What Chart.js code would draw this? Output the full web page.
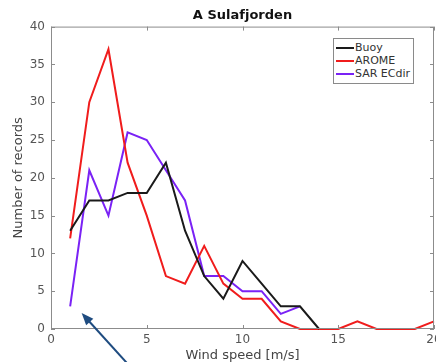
<!DOCTYPE html>
<html>
<head>
<meta charset="utf-8">
<script src="https://cdn.jsdelivr.net/npm/chart.js@4/dist/chart.umd.min.js"></script>
<style>
  html, body { margin: 0; padding: 0; background: #fff; }
  #wrap { position: relative; width: 436px; height: 362px; overflow: hidden; }
  #legend {
    position: absolute; left: 333px; top: 38px; width: 79px; height: 44px;
    border: 1px solid #8a8a8a; background: #fff;
    font: 11px "DejaVu Sans", sans-serif; color: #333;
  }
  .row { position: absolute; left: 2px; height: 13px; line-height: 13px; white-space: nowrap; }
  .row i { display: inline-block; width: 18px; height: 2px; vertical-align: middle; margin-right: 1px; }
</style>
</head>
<body>
<div id="wrap">
  <canvas id="c" width="436" height="362"></canvas>
  <div id="legend"></div>
</div>
<script>
// wind speed bins [m/s]
const speeds = [1, 2, 3, 4, 5, 6, 7, 8, 9, 10, 11, 12, 13, 14, 15, 16, 17, 18, 19, 20];

// number of records per bin
const buoy  = [13, 17, 17, 18, 18, 22, 13, 7, 4, 9, 6, 3, 3, 0];
const arome = [12, 30, 37, 22, 15, 7, 6, 11, 6, 4, 4, 1, 0, 0, 0, 1, 0, 0, 0, 1];
const sar   = [3, 21, 15, 26, 25, 21, 17, 7, 7, 5, 5, 2, 3];

const xTicks = [0, 5, 10, 15, 20];
const yTicks = [0, 5, 10, 15, 20, 25, 30, 35, 40];

// annotation arrow, in data units
const ARROW = { from: [4.0, -4.6], to: [1.6, 2.1] };

const SERIES = [
  { label: 'Buoy',      values: buoy,  color: '#1a1a1a' },
  { label: 'AROME',     values: arome, color: '#f01c1c' },
  { label: 'SAR ECdir', values: sar,   color: '#7a22f5' }
];

const tickFont = { family: 'DejaVu Sans', size: 12 };

// MATLAB style box with inward ticks on all four sides
const boxPlugin = {
  id: 'box',
  afterDraw(chart) {
    const { ctx, chartArea: a, scales: { x, y } } = chart;
    ctx.save();
    ctx.strokeStyle = '#8c8c8c';
    ctx.lineWidth = 1;
    ctx.strokeRect(a.left + 0.5, a.top + 0.5, a.right - a.left - 1, a.bottom - a.top - 1);
    ctx.beginPath();
    xTicks.forEach(v => {
      const px = Math.round(x.getPixelForValue(v)) + 0.5;
      ctx.moveTo(px, a.bottom); ctx.lineTo(px, a.bottom - 4);
      ctx.moveTo(px, a.top); ctx.lineTo(px, a.top + 4);
    });
    yTicks.forEach(v => {
      const py = Math.round(y.getPixelForValue(v)) + 0.5;
      ctx.moveTo(a.left, py); ctx.lineTo(a.left + 4, py);
      ctx.moveTo(a.right, py); ctx.lineTo(a.right - 4, py);
    });
    ctx.stroke();

    // arrow
    const x0 = x.getPixelForValue(ARROW.from[0]), y0 = y.getPixelForValue(ARROW.from[1]);
    const x1 = x.getPixelForValue(ARROW.to[0]),   y1 = y.getPixelForValue(ARROW.to[1]);
    const ang = Math.atan2(y1 - y0, x1 - x0);
    ctx.strokeStyle = '#1f4c80';
    ctx.fillStyle = '#1f4c80';
    ctx.lineWidth = 2;
    ctx.beginPath();
    ctx.moveTo(x0, y0);
    ctx.lineTo(x1 - 9 * Math.cos(ang), y1 - 9 * Math.sin(ang));
    ctx.stroke();
    ctx.beginPath();
    ctx.moveTo(x1, y1);
    ctx.lineTo(x1 - 13 * Math.cos(ang - 0.38), y1 - 13 * Math.sin(ang - 0.38));
    ctx.lineTo(x1 - 13 * Math.cos(ang + 0.38), y1 - 13 * Math.sin(ang + 0.38));
    ctx.closePath();
    ctx.fill();
    ctx.restore();
  }
};

new Chart(document.getElementById('c'), {
  type: 'line',
  data: {
    datasets: SERIES.map(s => ({
      label: s.label,
      data: s.values.map((v, i) => ({ x: speeds[i], y: v })),
      borderColor: s.color,
      backgroundColor: s.color,
      borderWidth: 2,
      pointRadius: 0,
      tension: 0,
      clip: false
    }))
  },
  options: {
    responsive: false,
    animation: false,
    layout: { padding: { left: 0, right: 2, top: 0, bottom: 0 } },
    plugins: {
      legend: { display: false },
      tooltip: { enabled: false },
      title: {
        display: true,
        text: 'A Sulafjorden',
        fullSize: false,
        color: '#111',
        font: { family: 'DejaVu Sans', size: 13, weight: 'bold' },
        padding: { top: 8, bottom: 3 }
      }
    },
    scales: {
      x: {
        type: 'linear',
        min: 0, max: 20,
        afterBuildTicks: sc => { sc.ticks = xTicks.map(v => ({ value: v })); },
        afterFit: sc => { sc.height = 33; sc.paddingLeft = 0; sc.paddingRight = 0; },
        border: { display: false },
        grid: { display: false, drawTicks: false },
        ticks: { color: '#555', font: tickFont, padding: 4, maxRotation: 0 },
        title: {
          display: true, text: 'Wind speed [m/s]', color: '#444',
          font: { family: 'DejaVu Sans', size: 13 }, padding: { top: 0, bottom: -1 }
        }
      },
      y: {
        min: 0, max: 40,
        afterBuildTicks: sc => { sc.ticks = yTicks.map(v => ({ value: v })); },
        afterFit: sc => { sc.width = 51; sc.paddingTop = 0; sc.paddingBottom = 0; },
        border: { display: false },
        grid: { display: false, drawTicks: false },
        ticks: { color: '#555', font: tickFont, padding: 6 },
        title: {
          display: true, text: 'Number of records', color: '#444',
          font: { family: 'DejaVu Sans', size: 13 }, padding: { top: 11, bottom: 0 }
        }
      }
    }
  },
  plugins: [boxPlugin]
});

document.getElementById('legend').innerHTML = SERIES.map((s, i) =>
  `<div class="row" style="top:${2 + i * 13}px"><i style="background:${s.color}"></i>${s.label}</div>`
).join('');
</script>
</body>
</html>
